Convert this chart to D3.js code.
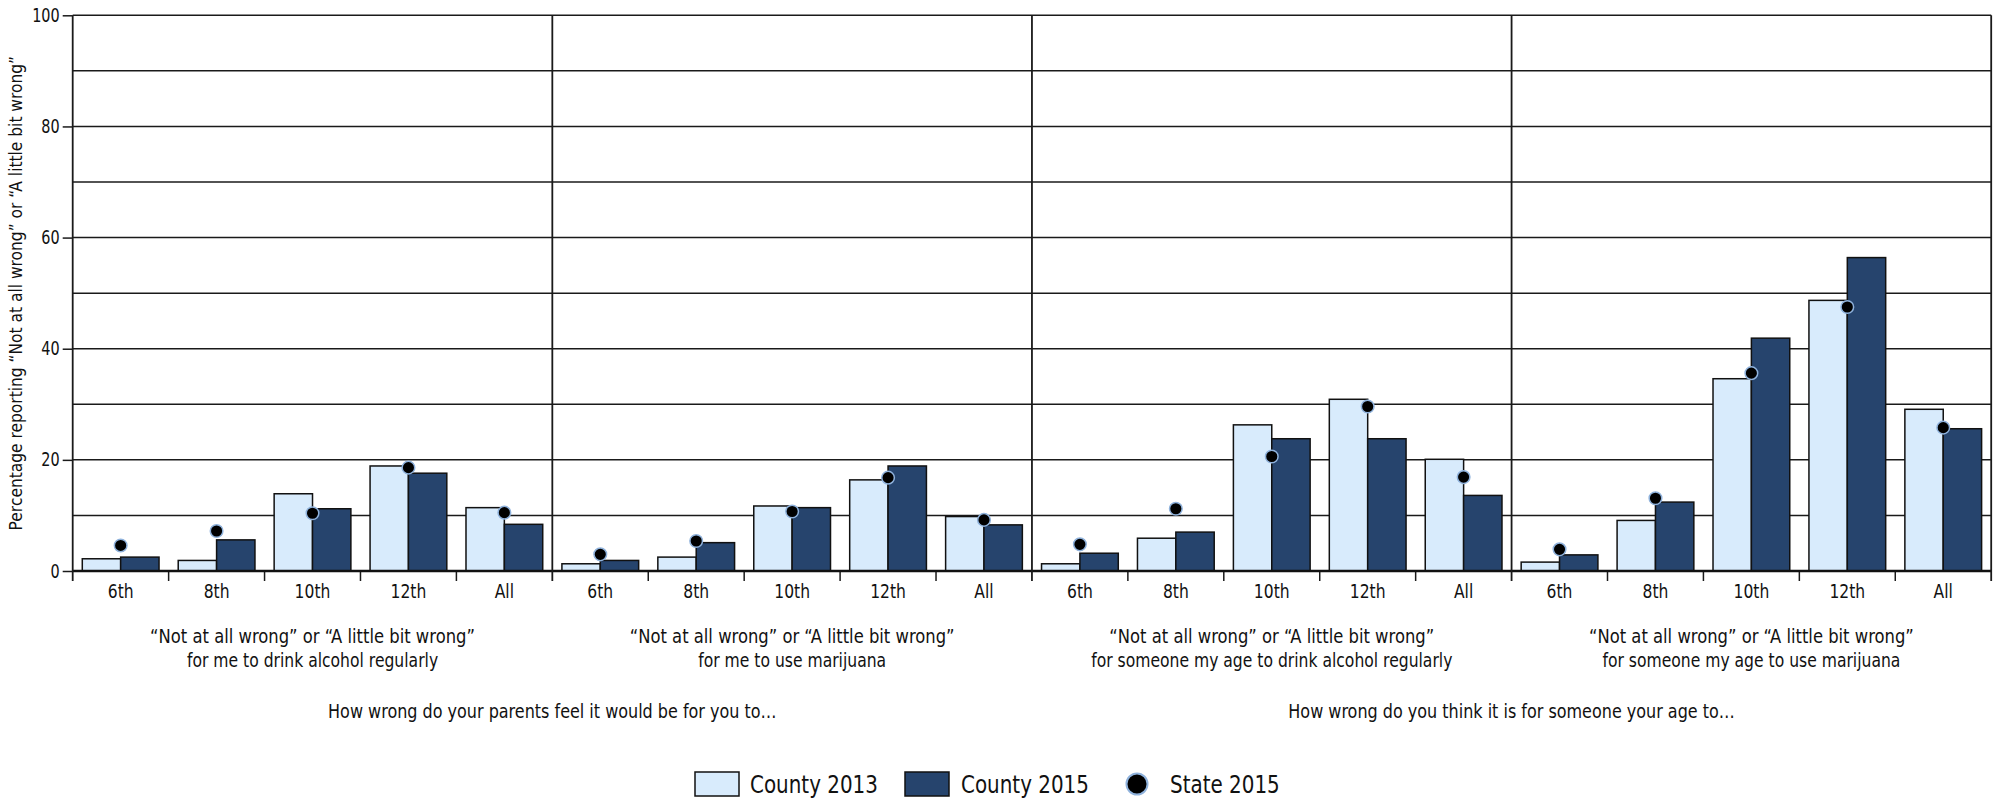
<!DOCTYPE html>
<html>
<head>
<meta charset="utf-8">
<script src="https://cdn.jsdelivr.net/npm/d3@7"></script>
<style>
  body { margin: 0; background: #fff; }
  svg text { font-family: "DejaVu Sans", sans-serif; fill: #111; }
</style>
</head>
<body>
<div class="chart"></div>
<script>
const width = 1999;
const height = 801;

// data
const grades = ["6th", "8th", "10th", "12th", "All"];
const panels = ["p1", "p2", "p3", "p4"];
const panelLines = [
    ["\u201CNot at all wrong\u201D or \u201CA little bit wrong\u201D", "for me to drink alcohol regularly"],
    ["\u201CNot at all wrong\u201D or \u201CA little bit wrong\u201D", "for me to use marijuana"],
    ["\u201CNot at all wrong\u201D or \u201CA little bit wrong\u201D", "for someone my age to drink alcohol regularly"],
    ["\u201CNot at all wrong\u201D or \u201CA little bit wrong\u201D", "for someone my age to use marijuana"]
];
const groupTitles = [
    "How wrong do your parents feel it would be for you to\u2026",
    "How wrong do you think it is for someone your age to\u2026"
];
const county2013 = [
    [2.2, 1.9, 13.9, 18.9, 11.4],
    [1.3, 2.5, 11.7, 16.4, 9.8],
    [1.3, 5.9, 26.3, 30.9, 20.1],
    [1.6, 9.1, 34.6, 48.7, 29.1]
];
const county2015 = [
    [2.5, 5.6, 11.2, 17.6, 8.4],
    [1.9, 5.1, 11.4, 18.9, 8.3],
    [3.2, 7.0, 23.8, 23.8, 13.6],
    [2.9, 12.4, 41.9, 56.4, 25.6]
];
const state2015 = [
    [4.6, 7.2, 10.4, 18.6, 10.5],
    [3.0, 5.4, 10.7, 16.8, 9.2],
    [4.8, 11.2, 20.6, 29.6, 16.9],
    [3.9, 13.1, 35.6, 47.5, 25.8]
];
const yTicks = [0, 20, 40, 60, 80, 100];
const yGrid = [10, 20, 30, 40, 50, 60, 70, 80, 90, 100];
const legendItems = ["County 2013", "County 2015", "State 2015"];

const lightFill = "#d8ebfc";
const darkFill = "#26446d";
const dotStroke = "#8fb2dc";

const plotLeft = 72.7, plotRight = 1991.2, plotTop = 15.3, plotBottom = 571;

// squeeze text sideways so it looks like the narrow face of the original
function squeeze(sel, k) {
    sel.each(function() {
        let t = d3.select(this);
        let x = +t.attr("x") || 0;
        let yy = +t.attr("y") || 0;
        t.attr("x", 0).attr("y", 0)
            .attr("transform", `translate(${x},${yy}) scale(${k},1)`);
    });
}

let svg = d3.select(".chart")
    .append("svg")
    .attr("width", width)
    .attr("height", height);

let y = d3.scaleLinear().domain([0, 100]).range([plotBottom, plotTop]);
let xPanel = d3.scaleBand().domain(panels).range([plotLeft, plotRight]);
let xGrade = d3.scaleBand().domain(grades).range([0, xPanel.bandwidth()]);
let xBar = d3.scaleBand().domain(["c13", "c15"]).range([0, xGrade.bandwidth()]).paddingOuter(0.25);

// horizontal grid
svg.append("g")
    .selectAll("line")
    .data(yGrid)
    .enter()
    .append("line")
    .attr("x1", plotLeft)
    .attr("x2", plotRight)
    .attr("y1", d => y(d))
    .attr("y2", d => y(d))
    .attr("stroke", "#1a1a1a")
    .attr("stroke-width", 1.5);

// y axis
let yAxis = d3.axisLeft(y).tickValues(yTicks).tickSize(10).tickPadding(3);
let yg = svg.append("g")
    .attr("transform", `translate(${plotLeft},0)`)
    .call(yAxis);
yg.select(".domain").remove();
yg.selectAll(".tick line").attr("stroke", "#1a1a1a").attr("stroke-width", 1.5);
yg.selectAll(".tick text").style("font-size", "19px").attr("fill", "#111").call(squeeze, 0.76);

svg.append("text")
    .attr("transform", `translate(22,${(plotTop + plotBottom) / 2}) rotate(-90) scale(0.86,1)`)
    .attr("text-anchor", "middle")
    .style("font-size", "18px")
    .text("Percentage reporting \u201CNot at all wrong\u201D or \u201CA little bit wrong\u201D");

// panels
panels.forEach((p, pi) => {
    let g = svg.append("g").attr("transform", `translate(${xPanel(p)},0)`);

    let xAxis = d3.axisBottom(xGrade).tickSize(0).tickPadding(14);
    let xg = g.append("g").attr("transform", `translate(0,${plotBottom})`).call(xAxis);
    xg.select(".domain").remove();
    xg.selectAll(".tick text").style("font-size", "19px").attr("fill", "#111")
        .attr("transform", "scale(0.82,1)");

    // band boundary ticks
    g.selectAll(".bt")
        .data(grades.slice(1))
        .enter()
        .append("line")
        .attr("x1", d => xGrade(d))
        .attr("x2", d => xGrade(d))
        .attr("y1", plotBottom)
        .attr("y2", plotBottom + 10)
        .attr("stroke", "#1a1a1a")
        .attr("stroke-width", 1.5);

    let rows = grades.map((gr, i) => ({
        grade: gr,
        c13: county2013[pi][i],
        c15: county2015[pi][i],
        st: state2015[pi][i]
    }));

    g.selectAll(".b13")
        .data(rows)
        .enter()
        .append("rect")
        .attr("x", d => xGrade(d.grade) + xBar("c13"))
        .attr("y", d => y(d.c13))
        .attr("width", xBar.bandwidth())
        .attr("height", d => y(0) - y(d.c13))
        .attr("fill", lightFill)
        .attr("stroke", "#111")
        .attr("stroke-width", 1.5);

    g.selectAll(".b15")
        .data(rows)
        .enter()
        .append("rect")
        .attr("x", d => xGrade(d.grade) + xBar("c15"))
        .attr("y", d => y(d.c15))
        .attr("width", xBar.bandwidth())
        .attr("height", d => y(0) - y(d.c15))
        .attr("fill", darkFill)
        .attr("stroke", "#111")
        .attr("stroke-width", 1.5);

    g.selectAll("circle")
        .data(rows)
        .enter()
        .append("circle")
        .attr("cx", d => xGrade(d.grade) + xGrade.bandwidth() / 2)
        .attr("cy", d => y(d.st))
        .attr("r", 6.3)
        .attr("fill", "#000")
        .attr("stroke", dotStroke)
        .attr("stroke-width", 1.5);

    let cx = xPanel.bandwidth() / 2;
    g.append("text")
        .attr("x", cx).attr("y", 643)
        .attr("text-anchor", "middle")
        .style("font-size", "20px")
        .text(panelLines[pi][0])
        .call(squeeze, 0.82);
    g.append("text")
        .attr("x", cx).attr("y", 667)
        .attr("text-anchor", "middle")
        .style("font-size", "20px")
        .text(panelLines[pi][1])
        .call(squeeze, 0.78);
});

// baseline and vertical dividers
svg.append("line")
    .attr("x1", plotLeft).attr("x2", plotRight)
    .attr("y1", plotBottom).attr("y2", plotBottom)
    .attr("stroke", "#111").attr("stroke-width", 2.5);

svg.selectAll(".div")
    .data(panels.concat(["end"]))
    .enter()
    .append("line")
    .attr("x1", d => d === "end" ? plotRight : xPanel(d))
    .attr("x2", d => d === "end" ? plotRight : xPanel(d))
    .attr("y1", plotTop)
    .attr("y2", plotBottom + 10)
    .attr("stroke", "#1a1a1a")
    .attr("stroke-width", 1.8);

// group titles
groupTitles.forEach((t, i) => {
    let x = (xPanel(panels[i * 2]) + xPanel(panels[i * 2 + 1]) + xPanel.bandwidth()) / 2;
    svg.append("text")
        .attr("x", x).attr("y", 718)
        .attr("text-anchor", "middle")
        .style("font-size", "20px")
        .text(t)
        .call(squeeze, 0.8);
});

// legend
let lg = svg.append("g");
lg.append("rect").attr("x", 695).attr("y", 772).attr("width", 44).attr("height", 24)
    .attr("fill", lightFill).attr("stroke", "#111").attr("stroke-width", 1.5);
lg.append("text").attr("x", 750).attr("y", 793).style("font-size", "24px").text(legendItems[0]);
lg.append("rect").attr("x", 905).attr("y", 772).attr("width", 44).attr("height", 24)
    .attr("fill", darkFill).attr("stroke", "#111").attr("stroke-width", 1.5);
lg.append("text").attr("x", 961).attr("y", 793).style("font-size", "24px").text(legendItems[1]);
lg.append("circle").attr("cx", 1137).attr("cy", 784).attr("r", 10.5)
    .attr("fill", "#000").attr("stroke", dotStroke).attr("stroke-width", 2);
lg.append("text").attr("x", 1170).attr("y", 793).style("font-size", "24px").text(legendItems[2]);
lg.selectAll("text").call(squeeze, 0.83);
</script>
</body>
</html>
